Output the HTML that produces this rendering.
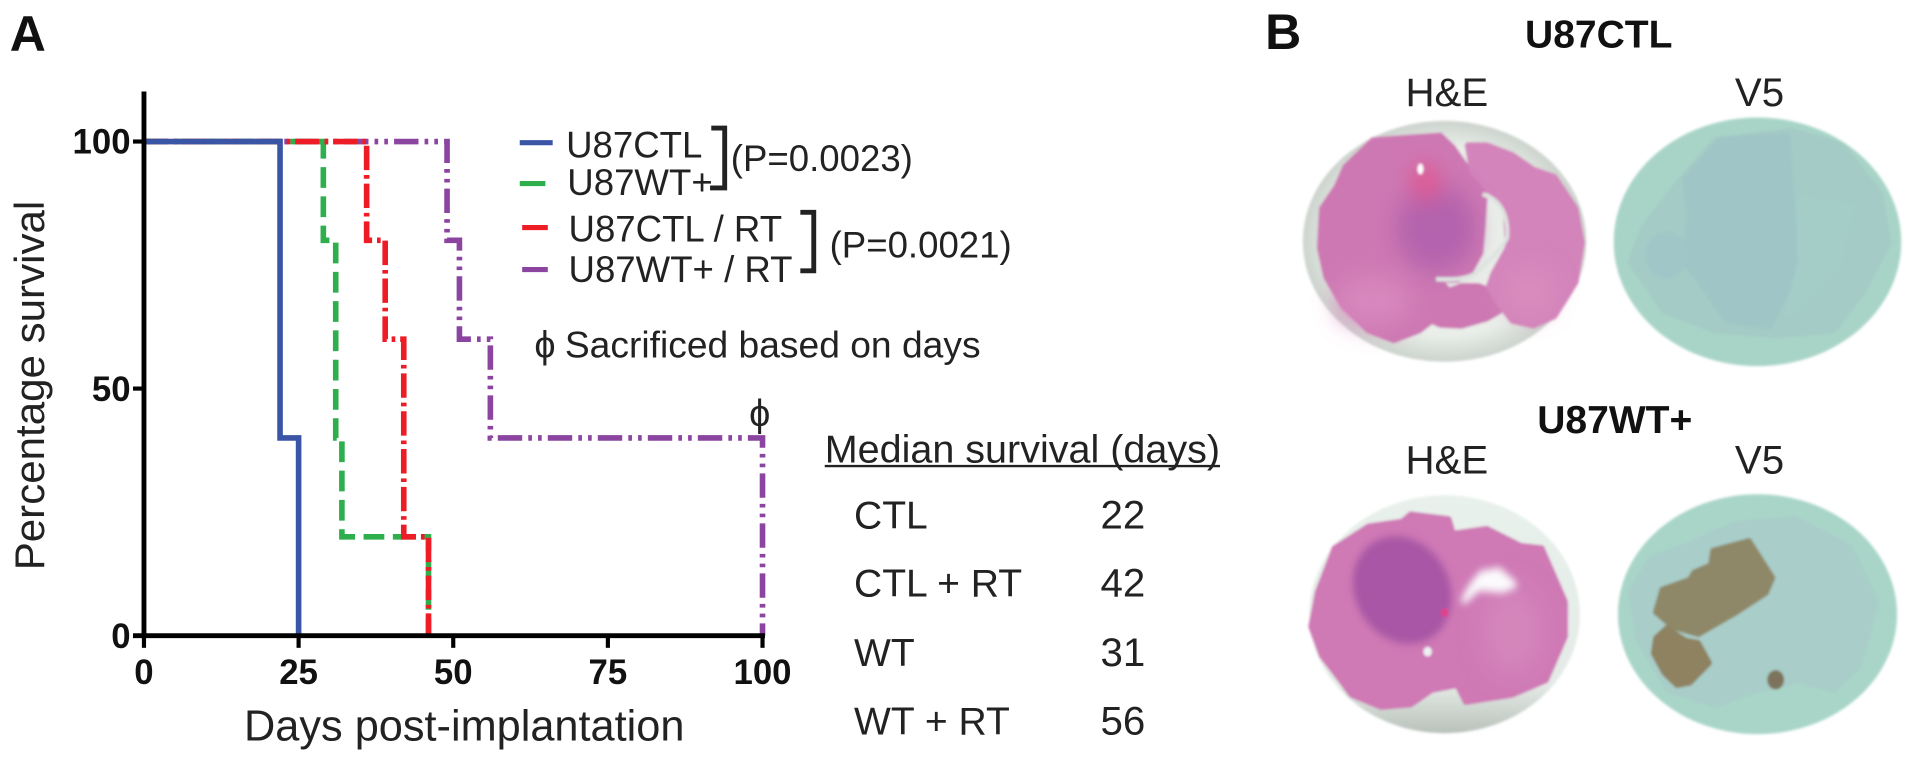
<!DOCTYPE html>
<html>
<head>
<meta charset="utf-8">
<title>Survival curves and tumor histology</title>
<style>
html,body{margin:0;padding:0;background:#fff;}
svg{display:block;}
text{font-family:"Liberation Sans",sans-serif;fill:#222;}
.b{font-weight:bold;fill:#111;}
.r{stroke-width:14;stroke-linejoin:round;}
</style>
</head>
<body>
<svg id="fig" xmlns="http://www.w3.org/2000/svg" width="1913" height="763" viewBox="0 0 1568 625.4">
  <defs>
    <filter id="soft" x="-10%" y="-10%" width="120%" height="120%"><feGaussianBlur stdDeviation="3"/></filter>
    <filter id="soft2" x="-60%" y="-60%" width="220%" height="220%"><feGaussianBlur stdDeviation="26"/></filter>
    <filter id="soft3" x="-30%" y="-30%" width="160%" height="160%"><feGaussianBlur stdDeviation="8"/></filter>
    <radialGradient id="discTop" cx="50%" cy="50%" r="50%">
      <stop offset="78%" stop-color="#e9eee9"/><stop offset="100%" stop-color="#ccd3cd"/>
    </radialGradient>
    <linearGradient id="discBottom" x1="0" y1="0" x2="0" y2="1">
      <stop offset="0%" stop-color="#e8f1ec"/><stop offset="80%" stop-color="#e4ebe6"/><stop offset="100%" stop-color="#b9c1bb"/>
    </linearGradient>
  </defs>
  <rect width="1568" height="626" fill="#fff"/>

  <text class="b" x="8" y="42" font-size="41">A</text>
  <text class="b" x="1037" y="40" font-size="41">B</text>

  <g id="chart"></g>

  <!-- legend -->
  <g>
    <g>
      <line x1="426" x2="453" y1="117" y2="117" stroke="#3a55a5" stroke-width="4.200"/>
      <text x="464" y="129" font-size="30">U87CTL</text>
    </g>
    <g>
      <line x1="426" x2="447" y1="150.500" y2="150.500" stroke="#2fae4e" stroke-width="4.200"/>
      <text x="465" y="160" font-size="30">U87WT+</text>
    </g>
    <g>
      <line x1="428" x2="449" y1="186.500" y2="186.500" stroke="#ee1c25" stroke-width="4.200"/>
      <text x="466" y="198" font-size="30">U87CTL / RT</text>
    </g>
    <g>
      <line x1="428" x2="449" y1="221" y2="221" stroke="#8b44a0" stroke-width="4.200"/>
      <text x="466" y="231" font-size="30">U87WT+ / RT</text>
    </g>
  </g>
  <path d="M583 105H594V154H582" fill="none" stroke="#222" stroke-width="4"/>
  <path d="M656 174H667V222H656" fill="none" stroke="#222" stroke-width="4"/>
  <text x="599" y="140" font-size="30">(P=0.0023)</text>
  <text x="680" y="211" font-size="30">(P=0.0021)</text>
  <text x="438" y="293" font-size="31">&#981;</text>
  <text x="463" y="293" font-size="30.500">Sacrificed based on days</text>
  <text x="614" y="349" font-size="31">&#981;</text>

  <!-- median table -->
  <g>
    <text x="676" y="379" font-size="32" textLength="324" lengthAdjust="spacingAndGlyphs">Median survival (days)</text>
    <line x1="676" x2="1000" y1="382" y2="382" stroke="#222" stroke-width="2"/>
    <text x="700" y="433" font-size="32">CTL</text><text x="902" y="433" font-size="33">22</text>
    <text x="700" y="489" font-size="32">CTL + RT</text><text x="902" y="489" font-size="33">42</text>
    <text x="700" y="546" font-size="32">WT</text><text x="902" y="546" font-size="33">31</text>
    <text x="700" y="602" font-size="32">WT + RT</text><text x="902" y="602" font-size="33">56</text>
  </g>

  <!-- panel B -->
  <text class="b" x="1250" y="39" font-size="32">U87CTL</text>
  <text class="b" x="1260" y="355" font-size="32">U87WT+</text>
  <text x="1152" y="87" font-size="33">H&amp;E</text>
  <text x="1422" y="87" font-size="33">V5</text>
  <text x="1152" y="388" font-size="33">H&amp;E</text>
  <text x="1422" y="388" font-size="33">V5</text>

  <g transform="translate(1024.6 0) scale(0.3466 0.398)">
    <!-- H&E top -->
    <g filter="url(#soft)">
      <ellipse cx="460" cy="497" rx="335" ry="248" fill="url(#discTop)"/>
      <path class="r" stroke="#cd78b3" d="M225 345L290 290L365 285L450 280L480 305L520 355L555 400L550 470L545 520L520 560L490 575L445 575L470 600L500 590L540 590L570 600L590 640L560 655L500 670L450 668L430 660L400 680L340 700L280 680L220 630L180 570L165 510L170 430L205 385Z" fill="#cd78b3"/>
      <path class="r" stroke="#d384bb" d="M515 300L560 300L620 320L670 350L720 365L770 430L785 500L770 580L720 650L670 670L620 660L590 625L565 590L575 565L610 510L605 430L560 385L525 350Z" fill="#d384bb"/>
      <ellipse cx="440" cy="470" rx="95" ry="90" fill="#b463ad" filter="url(#soft2)"/>
      <ellipse cx="290" cy="620" rx="90" ry="50" fill="#d888bd" filter="url(#soft2)"/>
      <ellipse cx="660" cy="600" rx="60" ry="45" fill="#da8cbe" filter="url(#soft2)"/>
      <ellipse cx="415" cy="375" rx="34" ry="35" fill="#e6548c" filter="url(#soft2)"/>
      <ellipse cx="403" cy="348" rx="7" ry="11" fill="#fff"/>
      <path d="M550 400C590 410 612 440 608 490C590 520 560 540 530 565C500 578 470 575 440 575" fill="none" stroke="#dde4e0" stroke-width="9"/>
    </g>
    <!-- V5 top -->
    <g filter="url(#soft)">
      <ellipse cx="1200" cy="498" rx="340" ry="256" fill="#a8d4c7"/>
      <path class="r" stroke="#a4cbc5" d="M1010 380L1100 290L1280 270L1400 300L1490 400L1510 500L1450 600L1380 680L1250 690L1100 680L980 640L900 540L930 470Z" fill="#a4cbc5"/>
      <path class="r" stroke="#a0c5c6" d="M1030 370L1110 290L1270 280L1285 450L1290 560L1230 670L1130 660L1030 540L1040 440Z" fill="#a0c5c6"/>
      <path d="M1290 400L1430 420L1400 550L1300 640L1260 660L1295 540Z" fill="#a4cdc8"/>
      <ellipse cx="985" cy="525" rx="50" ry="48" fill="#a0c6c8"/>
    </g>
    <!-- H&E bottom -->
    <g filter="url(#soft)">
      <ellipse cx="460" cy="1265" rx="320" ry="245" fill="url(#discBottom)"/>
      <path class="r" stroke="#cf79b5" d="M160 1220L200 1130L280 1085L360 1075L380 1060L470 1070L480 1100L560 1090L640 1125L690 1130L745 1240L745 1310L700 1400L620 1430L510 1445L490 1410L430 1420L380 1450L310 1455L240 1430L210 1395L170 1350L145 1290Z" fill="#cf79b5"/>
      <ellipse cx="360" cy="1215" rx="122" ry="105" fill="#a856a5" filter="url(#soft3)" transform="rotate(35 360 1215)"/>
      <ellipse cx="620" cy="1300" rx="70" ry="90" fill="#d486bb" filter="url(#soft2)"/>
      <path class="r" stroke="#fbfbfd" d="M506 1236L524 1208L548 1182L588 1176L624 1204L598 1214L540 1210Z" fill="#fbfbfd" filter="url(#soft3)"/>
      <circle cx="460" cy="1262" r="9" fill="#e2408a"/>
      <circle cx="420" cy="1342" r="10" fill="#eef2f5"/>
    </g>
    <!-- V5 bottom -->
    <g filter="url(#soft)">
      <ellipse cx="1200" cy="1265" rx="330" ry="247" fill="#a8d5c8"/>
      <path class="r" stroke="#a9cdc9" d="M1020 1130L1150 1080L1290 1070L1420 1130L1480 1240L1440 1370L1380 1420L1300 1400L1200 1420L1100 1450L990 1420L920 1320L900 1220L950 1150Z" fill="#a9cdc9"/>
      <path class="r" stroke="#8f8868" d="M1095 1135L1180 1115L1235 1190L1220 1220L1150 1260L1060 1305L1000 1290L960 1260L975 1215L1040 1195L1050 1180L1090 1165Z" fill="#8f8868"/>
      <path class="r" stroke="#8e8260" d="M985 1295L1030 1320L1060 1325L1085 1365L1040 1405L1010 1410L980 1385L955 1345L960 1315Z" fill="#8e8260"/>
      <ellipse cx="1243" cy="1400" rx="20" ry="20" fill="#7d735c"/>
    </g>
  </g>

  <script>
    // Kaplan-Meier data
    const xTicks = [0, 25, 50, 75, 100];
    const yTicks = [0, 50, 100];
    const daysPurple = [0, 49, 51, 56, 100];
    const survivalPurple = [100, 80, 60, 40, 0];
    const daysGreen = [0, 29, 31, 32, 46];
    const survivalGreen = [100, 80, 40, 20, 0];
    const daysRed = [0, 36, 39, 42, 46];
    const survivalRed = [100, 80, 60, 20, 0];
    const daysBlue = [0, 22, 25];
    const survivalBlue = [100, 40, 0];

    const NS = 'http://www.w3.org/2000/svg';
    const chart = document.getElementById('chart');
    const xScale = function (d) { return 118 + d * 5.07; };
    const yScale = function (s) { return 521 - s * 4.05; };

    function make(tag, attrs, parent) {
      const el = document.createElementNS(NS, tag);
      for (const k in attrs) el.setAttribute(k, attrs[k]);
      parent.appendChild(el);
      return el;
    }

    function drawSeries(days, survival, color, dash, name) {
      let d = 'M' + xScale(days[0]) + ' ' + yScale(survival[0]);
      for (let i = 1; i < days.length; i++) {
        d += 'H' + xScale(days[i]) + 'V' + yScale(survival[i]);
      }
      const p = make('path', { d: d, fill: 'none', stroke: color, 'stroke-width': 4.6, 'stroke-dasharray': dash }, chart);
      
      
    }

    drawSeries(daysPurple, survivalPurple, '#8b44a0', '20 5 3 5 3 5', 'series-u87wt-rt');
    drawSeries(daysGreen, survivalGreen, '#2fae4e', '17 7', 'series-u87wt');
    drawSeries(daysRed, survivalRed, '#ee1c25', '20 4 3 4', 'series-u87ctl-rt');
    drawSeries(daysBlue, survivalBlue, '#3a55a5', 'none', 'series-u87ctl');

    const yAxis = make('line', { x1: xScale(0), x2: xScale(0), y1: 75, y2: yScale(0) + 2, stroke: '#000', 'stroke-width': 4 }, chart);
    
    
    const xAxis = make('line', { x1: xScale(0) - 9, x2: xScale(100) + 2, y1: yScale(0), y2: yScale(0), stroke: '#000', 'stroke-width': 4 }, chart);
    
    

    xTicks.forEach(function (v) {
      const t = make('line', { x1: xScale(v), x2: xScale(v), y1: yScale(0), y2: yScale(0) + 10, stroke: '#000', 'stroke-width': 3.4 }, chart);
      
      
      const l = make('text', { x: xScale(v), y: 560.5, 'font-size': 28.5, 'text-anchor': 'middle', class: 'b' }, chart);
      
      
      l.textContent = v;
    });
    yTicks.forEach(function (v) {
      const t = make('line', { x1: xScale(0) - 9, x2: xScale(0), y1: yScale(v), y2: yScale(v), stroke: '#000', 'stroke-width': 3.4 }, chart);
      
      
      const l = make('text', { x: 107, y: yScale(v) + 10, 'font-size': 28.5, 'text-anchor': 'end', class: 'b' }, chart);
      
      
      l.textContent = v;
    });

    const xTitle = make('text', { x: 380.5, y: 607, 'font-size': 35.5, 'text-anchor': 'middle' }, chart);
    
    
    xTitle.textContent = 'Days post-implantation';
    const yTitle = make('text', { x: 0, y: 0, 'font-size': 34.5, 'text-anchor': 'middle', transform: 'translate(36 316) rotate(-90)' }, chart);
    
    
    yTitle.textContent = 'Percentage survival';
  </script>
</svg>
</body>
</html>
